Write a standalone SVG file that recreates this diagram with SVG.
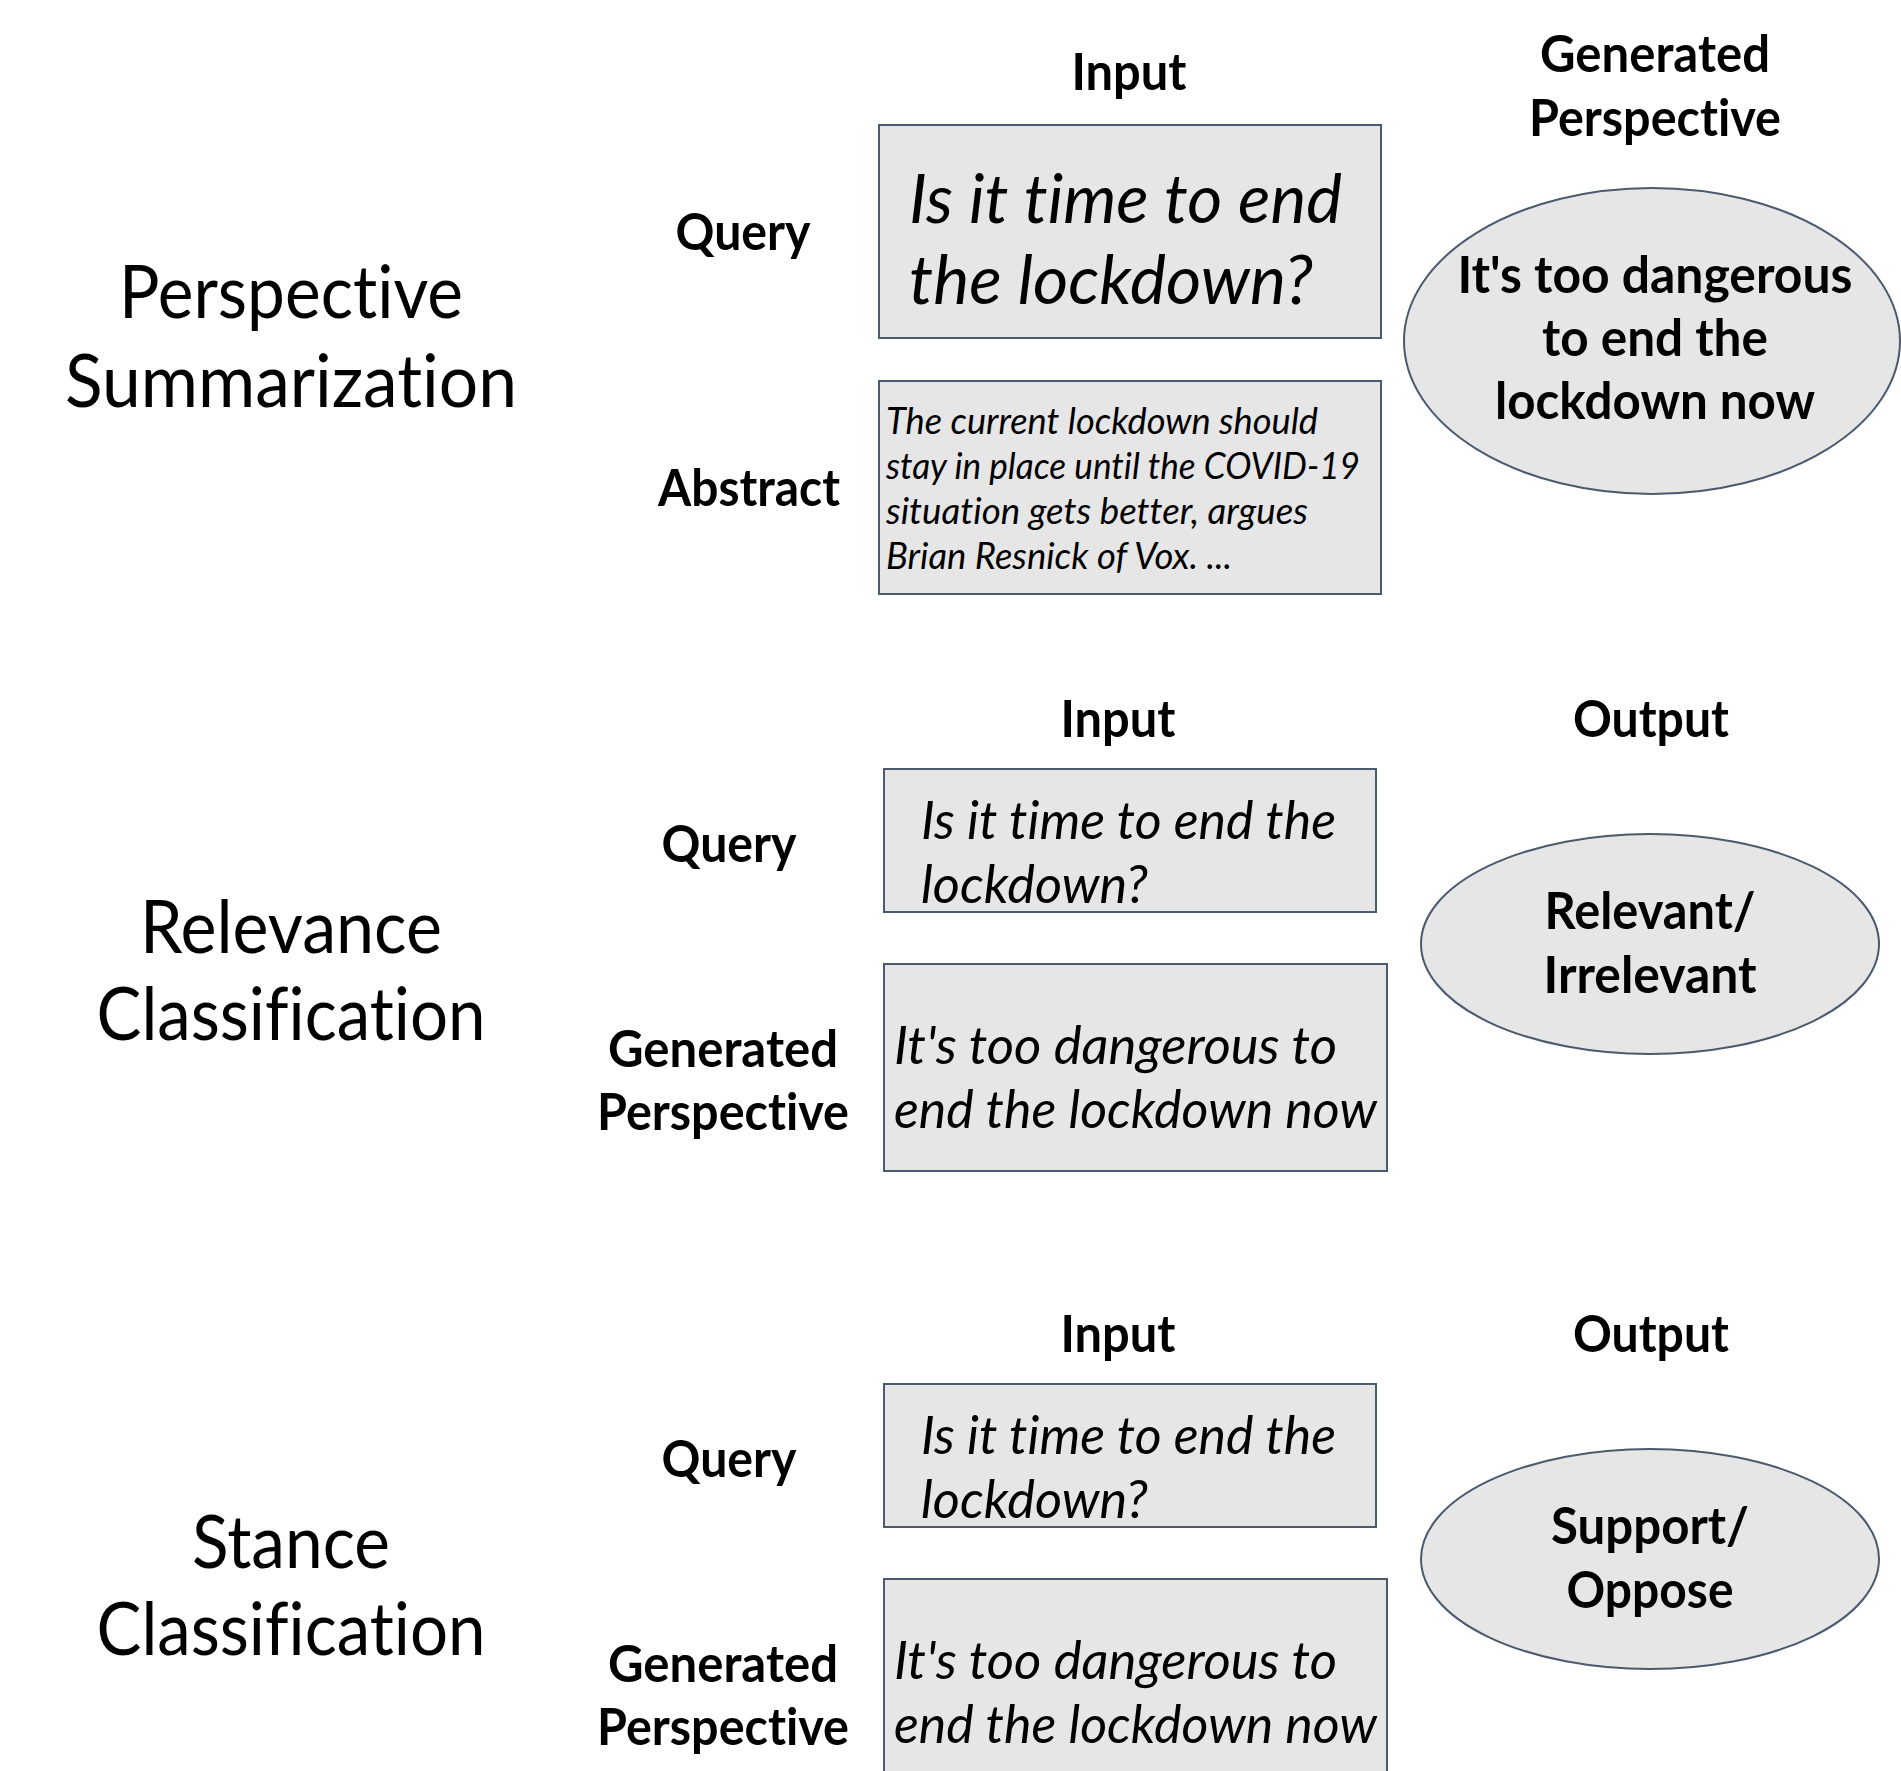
<svg xmlns="http://www.w3.org/2000/svg" width="1901" height="1771" viewBox="0 0 1901 1771">
<style>
text{font-family:Lato,"Open Sans","Liberation Sans",sans-serif;fill:#000;font-variant-ligatures:none;font-feature-settings:"liga" 0,"dlig" 0}
.title{font-size:74px;text-anchor:middle}
.head{font-size:52px;font-weight:bold;text-anchor:middle}
.box{fill:#e6e6e6;stroke:#4b5a6e;stroke-width:2}
.it{font-style:italic}
.b52{font-size:52px}
</style>
<rect width="1901" height="1771" fill="#fff"/>

<g id="sec1-title"><text class="title" x="291" y="318" textLength="344" lengthAdjust="spacingAndGlyphs">Perspective</text><text class="title" x="291" y="407" textLength="452" lengthAdjust="spacingAndGlyphs">Summarization</text></g>
<g id="sec1-input-head"><text class="head" x="1129" y="90" textLength="115" lengthAdjust="spacingAndGlyphs">Input</text></g>
<g id="sec1-output-head"><text class="head" x="1655" y="72" textLength="230" lengthAdjust="spacingAndGlyphs">Generated</text><text class="head" x="1655" y="136" textLength="252" lengthAdjust="spacingAndGlyphs">Perspective</text></g>
<g id="sec1-query-label"><text class="head" x="743" y="250" textLength="135" lengthAdjust="spacingAndGlyphs">Query</text></g>
<g id="sec1-abstract-label"><text class="head" x="749" y="506" textLength="182" lengthAdjust="spacingAndGlyphs">Abstract</text></g>
<g id="sec1-query-box"><rect class="box" x="879" y="125" width="502" height="213"/><text class="it" font-size="67" x="909" y="223" textLength="433" lengthAdjust="spacingAndGlyphs">Is it time to end</text><text class="it" font-size="67" x="909" y="304" textLength="404" lengthAdjust="spacingAndGlyphs">the lockdown?</text></g>
<g id="sec1-abstract-box"><rect class="box" x="879" y="381" width="502" height="213"/><text class="it" font-size="37" x="886" y="434" textLength="432" lengthAdjust="spacingAndGlyphs">The current lockdown should</text><text class="it" font-size="37" x="886" y="479" textLength="474" lengthAdjust="spacingAndGlyphs">stay in place until the COVID-19</text><text class="it" font-size="37" x="886" y="524" textLength="422" lengthAdjust="spacingAndGlyphs">situation gets better, argues</text><text class="it" font-size="37" x="886" y="569" textLength="346" lengthAdjust="spacingAndGlyphs">Brian Resnick of Vox. ...</text></g>
<g id="sec1-output"><ellipse class="box" cx="1652" cy="341" rx="248" ry="153"/><text class="head" x="1655" y="293" textLength="395" lengthAdjust="spacingAndGlyphs">It's too dangerous</text><text class="head" x="1655" y="356" textLength="226" lengthAdjust="spacingAndGlyphs">to end the</text><text class="head" x="1655" y="419" textLength="320" lengthAdjust="spacingAndGlyphs">lockdown now</text></g>

<g id="sec2-title"><text class="title" x="291" y="953" textLength="302" lengthAdjust="spacingAndGlyphs">Relevance</text><text class="title" x="291" y="1040" textLength="389" lengthAdjust="spacingAndGlyphs">Classification</text></g>
<g id="sec2-input-head"><text class="head" x="1118" y="737" textLength="115" lengthAdjust="spacingAndGlyphs">Input</text></g>
<g id="sec2-output-head"><text class="head" x="1651" y="737" textLength="156" lengthAdjust="spacingAndGlyphs">Output</text></g>
<g id="sec2-query-label"><text class="head" x="729" y="862" textLength="135" lengthAdjust="spacingAndGlyphs">Query</text></g>
<g id="sec2-gp-label"><text class="head" x="723" y="1067" textLength="230" lengthAdjust="spacingAndGlyphs">Generated</text><text class="head" x="723" y="1130" textLength="252" lengthAdjust="spacingAndGlyphs">Perspective</text></g>
<g id="sec2-query-box"><rect class="box" x="884" y="769" width="492" height="143"/><text class="it b52" x="921" y="839" textLength="415" lengthAdjust="spacingAndGlyphs">Is it time to end the</text><text class="it b52" x="921" y="903" textLength="227" lengthAdjust="spacingAndGlyphs">lockdown?</text></g>
<g id="sec2-gp-box"><rect class="box" x="884" y="964" width="503" height="207"/><text class="it b52" x="894" y="1064" textLength="443" lengthAdjust="spacingAndGlyphs">It's too dangerous to</text><text class="it b52" x="894" y="1128" textLength="483" lengthAdjust="spacingAndGlyphs">end the lockdown now</text></g>
<g id="sec2-output"><ellipse class="box" cx="1650" cy="944" rx="229" ry="110"/><text class="head" x="1650" y="929" textLength="211" lengthAdjust="spacingAndGlyphs">Relevant/</text><text class="head" x="1650" y="993" textLength="213" lengthAdjust="spacingAndGlyphs">Irrelevant</text></g>

<g id="sec3-title"><text class="title" x="291" y="1568" textLength="198" lengthAdjust="spacingAndGlyphs">Stance</text><text class="title" x="291" y="1655" textLength="389" lengthAdjust="spacingAndGlyphs">Classification</text></g>
<g id="sec3-input-head"><text class="head" x="1118" y="1352" textLength="115" lengthAdjust="spacingAndGlyphs">Input</text></g>
<g id="sec3-output-head"><text class="head" x="1651" y="1352" textLength="156" lengthAdjust="spacingAndGlyphs">Output</text></g>
<g id="sec3-query-label"><text class="head" x="729" y="1477" textLength="135" lengthAdjust="spacingAndGlyphs">Query</text></g>
<g id="sec3-gp-label"><text class="head" x="723" y="1682" textLength="230" lengthAdjust="spacingAndGlyphs">Generated</text><text class="head" x="723" y="1745" textLength="252" lengthAdjust="spacingAndGlyphs">Perspective</text></g>
<g id="sec3-query-box"><rect class="box" x="884" y="1384" width="492" height="143"/><text class="it b52" x="921" y="1454" textLength="415" lengthAdjust="spacingAndGlyphs">Is it time to end the</text><text class="it b52" x="921" y="1518" textLength="227" lengthAdjust="spacingAndGlyphs">lockdown?</text></g>
<g id="sec3-gp-box"><rect class="box" x="884" y="1579" width="503" height="207"/><text class="it b52" x="894" y="1679" textLength="443" lengthAdjust="spacingAndGlyphs">It's too dangerous to</text><text class="it b52" x="894" y="1743" textLength="483" lengthAdjust="spacingAndGlyphs">end the lockdown now</text></g>
<g id="sec3-output"><ellipse class="box" cx="1650" cy="1559" rx="229" ry="110"/><text class="head" x="1650" y="1544" textLength="198" lengthAdjust="spacingAndGlyphs">Support/</text><text class="head" x="1650" y="1608" textLength="167" lengthAdjust="spacingAndGlyphs">Oppose</text></g>

<g id="connectors"></g>
</svg>
